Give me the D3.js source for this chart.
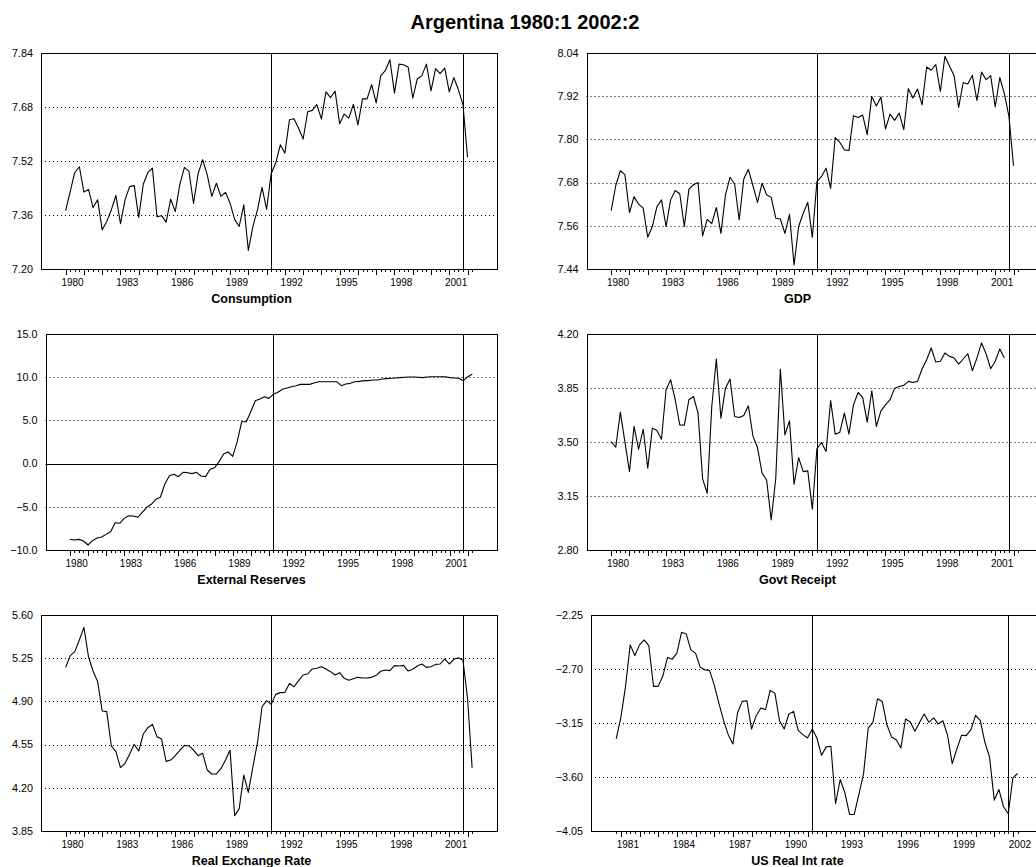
<!DOCTYPE html>
<html>
<head>
<meta charset="utf-8">
<script src="https://cdn.jsdelivr.net/npm/d3@7"></script>
<style>
  body { margin: 0; background: #fff; }
  svg { display: block; font-family: "Liberation Sans", Arial, Helvetica, sans-serif; }
</style>
</head>
<body>
<svg id="chart" width="1036" height="867"></svg>
<script>
// ---- data: quarterly, index 0 = 1980:1 ----
const chartTitle = "Argentina 1980:1 2002:2";
const panelNames = ["Consumption", "GDP", "External Reserves", "Govt Receipt", "Real Exchange Rate", "US Real Int rate"];
const firstQuarter = [0, 0, 0, 0, 0, 3];          // quarter index of first observation
const eventQuarters = [45, 87];                    // 1991:2 and 2001:4
const lastSampleQuarter = 89;                      // 2002:2

const yTicks = [
  [7.20, 7.36, 7.52, 7.68, 7.84],
  [7.44, 7.56, 7.68, 7.80, 7.92, 8.04],
  [-10, -5, 0, 5, 10, 15],
  [2.80, 3.15, 3.50, 3.85, 4.20],
  [3.85, 4.20, 4.55, 4.90, 5.25, 5.60],
  [-4.05, -3.60, -3.15, -2.70, -2.25]
];
const yDecimals = [2, 2, 1, 2, 2, 2];

const consumption = [
  7.373, 7.430, 7.486, 7.503, 7.428, 7.436, 7.382, 7.405, 7.316, 7.341,
  7.375, 7.418, 7.334, 7.405, 7.444, 7.447, 7.353, 7.451, 7.486, 7.499,
  7.355, 7.358, 7.339, 7.407, 7.370, 7.451, 7.501, 7.489, 7.394, 7.482,
  7.524, 7.479, 7.415, 7.454, 7.415, 7.427, 7.395, 7.347, 7.326, 7.390,
  7.255, 7.326, 7.375, 7.442, 7.377, 7.482, 7.514, 7.568, 7.543, 7.642,
  7.645, 7.617, 7.585, 7.666, 7.670, 7.687, 7.645, 7.725, 7.708, 7.727,
  7.630, 7.659, 7.647, 7.688, 7.627, 7.704, 7.704, 7.746, 7.692, 7.773,
  7.788, 7.820, 7.721, 7.807, 7.805, 7.798, 7.706, 7.763, 7.773, 7.807,
  7.728, 7.794, 7.779, 7.795, 7.725, 7.767, 7.731, 7.687, 7.531
];
const gdp = [
  7.602, 7.672, 7.713, 7.702, 7.597, 7.641, 7.620, 7.609, 7.528, 7.558,
  7.613, 7.632, 7.558, 7.632, 7.658, 7.649, 7.558, 7.662, 7.674, 7.680,
  7.532, 7.578, 7.566, 7.611, 7.539, 7.646, 7.695, 7.676, 7.576, 7.690,
  7.717, 7.672, 7.625, 7.678, 7.646, 7.639, 7.581, 7.579, 7.539, 7.592,
  7.451, 7.558, 7.595, 7.625, 7.528, 7.683, 7.697, 7.720, 7.664, 7.805,
  7.792, 7.771, 7.769, 7.866, 7.861, 7.868, 7.813, 7.919, 7.893, 7.918,
  7.829, 7.870, 7.853, 7.873, 7.827, 7.941, 7.915, 7.940, 7.896, 8.001,
  7.992, 8.008, 7.933, 8.031, 8.004, 7.977, 7.889, 7.958, 7.954, 7.978,
  7.908, 7.987, 7.966, 7.977, 7.890, 7.972, 7.927, 7.864, 7.727
];
const externalReserves = [
  -8.77, -8.84, -8.77, -8.96, -9.42, -8.92, -8.61, -8.50, -8.19, -7.88,
  -6.84, -6.91, -6.34, -6.03, -6.06, -6.22, -5.64, -5.06, -4.71, -4.14,
  -3.90, -2.36, -1.40, -1.24, -1.51, -1.01, -1.05, -1.16, -1.01, -1.44,
  -1.51, -0.66, -0.47, 0.23, 1.11, 1.34, 0.84, 2.54, 4.85, 4.85,
  6.01, 7.28, 7.48, 7.75, 7.55, 8.02, 8.25, 8.60, 8.75, 8.90,
  9.02, 9.17, 9.17, 9.17, 9.33, 9.48, 9.48, 9.48, 9.48, 9.48,
  9.02, 9.21, 9.29, 9.48, 9.52, 9.60, 9.60, 9.68, 9.68, 9.79,
  9.83, 9.87, 9.91, 9.95, 9.99, 10.03, 10.03, 9.99, 9.95, 10.03,
  10.06, 10.06, 10.06, 10.06, 9.95, 9.91, 9.87, 9.60, 10.06, 10.37
];
const govtReceipt = [
  3.503, 3.466, 3.694, 3.501, 3.308, 3.601, 3.453, 3.583, 3.330, 3.590,
  3.575, 3.518, 3.839, 3.904, 3.774, 3.611, 3.609, 3.774, 3.795, 3.687,
  3.261, 3.168, 3.730, 4.038, 3.655, 3.849, 3.908, 3.665, 3.659, 3.672,
  3.735, 3.540, 3.464, 3.298, 3.254, 2.995, 3.265, 3.973, 3.546, 3.637,
  3.226, 3.399, 3.308, 3.313, 3.064, 3.456, 3.497, 3.438, 3.769, 3.551,
  3.562, 3.687, 3.551, 3.741, 3.821, 3.789, 3.629, 3.832, 3.601, 3.702,
  3.741, 3.774, 3.849, 3.860, 3.867, 3.893, 3.886, 3.893, 3.973, 4.033,
  4.109, 4.018, 4.023, 4.077, 4.055, 4.044, 4.005, 4.038, 4.072, 3.962,
  4.044, 4.142, 4.072, 3.975, 4.023, 4.103, 4.044
];
const realExchangeRate = [
  5.176, 5.271, 5.303, 5.397, 5.500, 5.262, 5.146, 5.060, 4.822, 4.817,
  4.539, 4.493, 4.363, 4.398, 4.471, 4.552, 4.498, 4.636, 4.687, 4.714,
  4.614, 4.595, 4.414, 4.425, 4.460, 4.504, 4.544, 4.539, 4.506, 4.460,
  4.479, 4.344, 4.312, 4.312, 4.355, 4.425, 4.504, 3.974, 4.031, 4.304,
  4.163, 4.371, 4.566, 4.857, 4.906, 4.876, 4.957, 4.971, 4.973, 5.046,
  5.019, 5.068, 5.114, 5.122, 5.163, 5.168, 5.181, 5.163, 5.141, 5.114,
  5.133, 5.087, 5.071, 5.084, 5.095, 5.090, 5.090, 5.095, 5.111, 5.144,
  5.154, 5.149, 5.190, 5.187, 5.192, 5.146, 5.160, 5.187, 5.203, 5.176,
  5.181, 5.200, 5.203, 5.244, 5.203, 5.241, 5.254, 5.233, 4.925, 4.363
];
const usRealIntRate = [
  -3.283, -3.103, -2.845, -2.499, -2.588, -2.499, -2.458,
  -2.508, -2.845, -2.845, -2.757, -2.604, -2.618, -2.568, -2.394, -2.408, -2.541,
  -2.568, -2.685, -2.707, -2.712, -2.832, -2.984, -3.128, -3.247, -3.325, -3.067,
  -2.970, -2.964, -3.200, -3.089, -3.025, -3.039, -2.879, -2.901, -3.131, -3.200,
  -3.075, -3.053, -3.211, -3.247, -3.275, -3.200, -3.275, -3.419, -3.349, -3.344,
  -3.823, -3.621, -3.732, -3.912, -3.912, -3.745, -3.574, -3.192, -3.144, -2.948,
  -2.970, -3.164, -3.266, -3.289, -3.358, -3.117, -3.142, -3.219, -3.144, -3.075,
  -3.144, -3.108, -3.158, -3.131, -3.252, -3.488, -3.366, -3.252, -3.255, -3.205,
  -3.086, -3.128, -3.311, -3.433, -3.793, -3.704, -3.848, -3.906, -3.607, -3.571
];
const seriesList = [consumption, gdp, externalReserves, govtReceipt, realExchangeRate, usRealIntRate];

// ---- layout ----
const svg = d3.select("#chart");
const colRight = [497, 1043];          // right frame edge per column
const colTitleX = [251.5, 797.5];      // centre of the caption under each panel
const rowTop = [53, 334, 615];
const plotH = 216;
const padLeftQ = 5.4, padRightQ = 5.45;

svg.append("text")
  .attr("x", 525).attr("y", 29)
  .attr("text-anchor", "middle")
  .attr("font-weight", "bold")
  .attr("font-size", 20)
  .text(chartTitle);

seriesList.forEach((values, k) => {
  const col = k % 2, row = Math.floor(k / 2);
  const ticks = yTicks[k];
  const fmt = d3.format("." + yDecimals[k] + "f");
  const labelW = d3.max(ticks, t => fmt(t).length);
  const left = (col === 0 ? 41 : 586.5) + (labelW > 4 ? 4.5 : 0);
  const right = colRight[col];
  const top = rowTop[row], bottom = top + plotH;
  const q0 = firstQuarter[k];

  const x = d3.scaleLinear()
    .domain([q0 - padLeftQ, lastSampleQuarter + padRightQ])
    .range([left, right]);
  const y = d3.scaleLinear()
    .domain([ticks[0], ticks[ticks.length - 1]])
    .range([bottom, top]);

  const g = svg.append("g");
  const px = v => Math.round(v) + 0.5;

  // dotted grid lines at the inner ticks
  g.selectAll("line.grid")
    .data(ticks.slice(1, -1).filter(t => t !== 0))
    .join("line")
    .attr("x1", left).attr("x2", right)
    .attr("y1", d => px(y(d))).attr("y2", d => px(y(d)))
    .attr("stroke", "#000").attr("stroke-width", 1)
    .attr("stroke-dasharray", "1,3");

  // solid zero line where the range crosses zero
  if (ticks[0] < 0 && ticks[ticks.length - 1] > 0) {
    g.append("line")
      .attr("x1", left).attr("x2", right)
      .attr("y1", px(y(0))).attr("y2", px(y(0)))
      .attr("stroke", "#000").attr("stroke-width", 1.2);
  }

  // event markers
  g.selectAll("line.event")
    .data(eventQuarters)
    .join("line")
    .attr("x1", d => px(x(d))).attr("x2", d => px(x(d)))
    .attr("y1", top).attr("y2", bottom)
    .attr("stroke", "#000").attr("stroke-width", 1);

  // series line
  const line = d3.line()
    .x((d, i) => x(q0 + i))
    .y(d => y(d));
  g.append("path")
    .datum(values)
    .attr("d", line)
    .attr("fill", "none")
    .attr("stroke", "#000")
    .attr("stroke-width", 1.1)
    .attr("stroke-linejoin", "round");

  // frame
  g.append("rect")
    .attr("x", px(left)).attr("y", px(top))
    .attr("width", Math.round(right) - Math.round(left)).attr("height", plotH)
    .attr("fill", "none").attr("stroke", "#000").attr("stroke-width", 1);

  // y labels
  g.selectAll("text.ylab")
    .data(ticks)
    .join("text")
    .attr("x", left - 8)
    .attr("y", d => y(d))
    .attr("dy", "0.36em")
    .attr("text-anchor", "end")
    .attr("font-size", 10.8)
    .text(d => fmt(d));

  // quarterly ticks below the frame
  const quarters = d3.range(q0, lastSampleQuarter + 1);
  g.selectAll("line.qtick")
    .data(quarters)
    .join("line")
    .attr("x1", d => px(x(d))).attr("x2", d => px(x(d)))
    .attr("y1", bottom).attr("y2", d => bottom + (d % 4 === 0 ? 6 : 3))
    .attr("stroke", "#000").attr("stroke-width", 1);

  // year labels every third year
  const firstYear = 1980 + Math.ceil(q0 / 4);
  const years = d3.range(firstYear, 2003, 3);
  g.selectAll("text.year")
    .data(years)
    .join("text")
    .attr("x", d => x((d - 1980) * 4 + 1.5))
    .attr("y", bottom + 16.5)
    .attr("text-anchor", "middle")
    .attr("font-size", 10)
    .text(d => d);

  // caption
  g.append("text")
    .attr("x", colTitleX[col])
    .attr("y", bottom + 34)
    .attr("text-anchor", "middle")
    .attr("font-weight", "bold")
    .attr("font-size", 12.5)
    .text(panelNames[k]);
});
</script>
</body>
</html>
